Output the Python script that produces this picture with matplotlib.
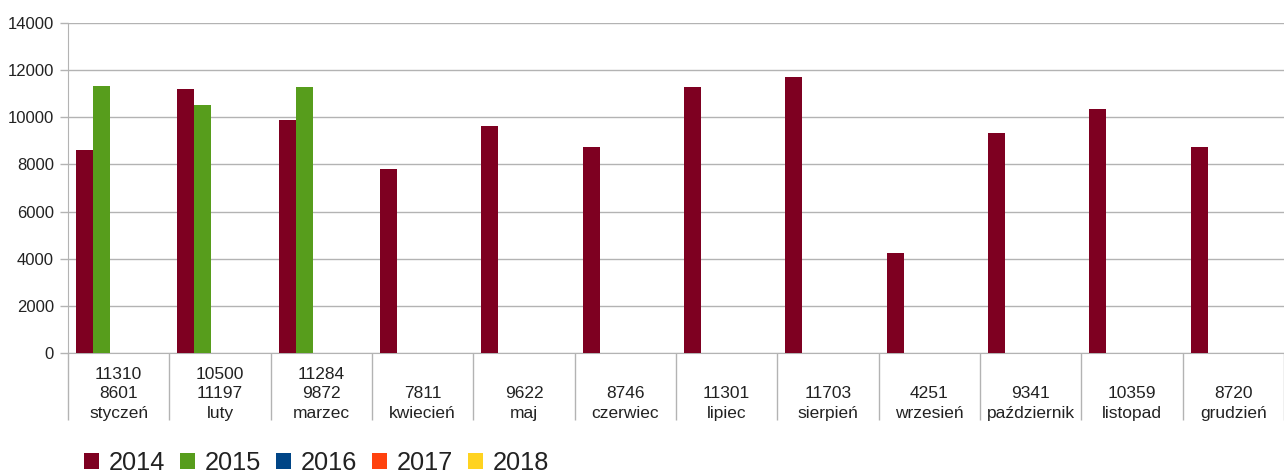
import numpy as np
import matplotlib
matplotlib.use("Agg")
import matplotlib.pyplot as plt
from matplotlib.ticker import FixedLocator

plt.rcParams["font.family"] = ["Liberation Sans", "DejaVu Sans"]

months = ["styczeń", "luty", "marzec", "kwiecień", "maj", "czerwiec",
          "lipiec", "sierpień", "wrzesień", "październik", "listopad", "grudzień"]
years = ["2014", "2015", "2016", "2017", "2018"]
v2014 = [8601, 11197, 9872, 7811, 9622, 8746, 11301, 11703, 4251, 9341, 10359, 8720]
v2015 = [11310, 10500, 11284, None, None, None, None, None, None, None, None, None]
v2016 = [None] * 12
v2017 = [None] * 12
v2018 = [None] * 12
colors = ["#7e0021", "#579d1c", "#004586", "#ff420e", "#ffd320"]

series = [v2014, v2015, v2016, v2017, v2018]

fig = plt.figure(figsize=(12.84, 4.74), dpi=100)
ax = fig.add_axes([68 / 1284, 1 - 353 / 474, 1 - 68 / 1284, 330 / 474])

x = np.arange(len(months))
w = 0.168
for k, (vals, col, yr) in enumerate(zip(series, colors, years)):
    h = [np.nan if v is None else v for v in vals]
    ax.bar(x - 0.336 + w * k, h, width=w, color=col, label=yr, zorder=3)

ax.set_xlim(-0.5, len(months) - 0.5)
ax.set_ylim(0, 14000)
ax.set_yticks(range(0, 14001, 2000))
ax.grid(axis="y", color="#b3b3b3", linewidth=1, zorder=0)

# data table style labels under each month (2015 value on top, then 2014)
labels = []
for m, a, b in zip(months, v2014, v2015):
    top = "" if b is None else str(b)
    labels.append(f"{top}\n{a}\n{m}")
ax.set_xticks(x)
ax.set_xticklabels(labels, fontsize=12.5, linespacing=1.36, color="#222222")
ax.tick_params(axis="x", which="major", length=0, pad=10)
ax.xaxis.set_minor_locator(FixedLocator(np.arange(-0.5, len(months), 1.0)))
ax.tick_params(axis="x", which="minor", length=48, width=1, color="#b3b3b3")

ax.tick_params(axis="y", length=6, width=1, color="#b3b3b3", labelsize=12,
               labelcolor="#222222", pad=4)

for s in ["top", "right"]:
    ax.spines[s].set_visible(False)
ax.spines["left"].set_color("#b3b3b3")
ax.spines["bottom"].set_color("#b3b3b3")

fig.legend(loc="center left", bbox_to_anchor=(74 / 1284, 1 - 463 / 474), ncol=5,
           frameon=False, fontsize=18.3, handlelength=0.58, handleheight=0.58,
           handletextpad=0.38, columnspacing=0.6, borderaxespad=0,
           labelcolor="#222222")

fig.savefig("out.png", dpi=100)
